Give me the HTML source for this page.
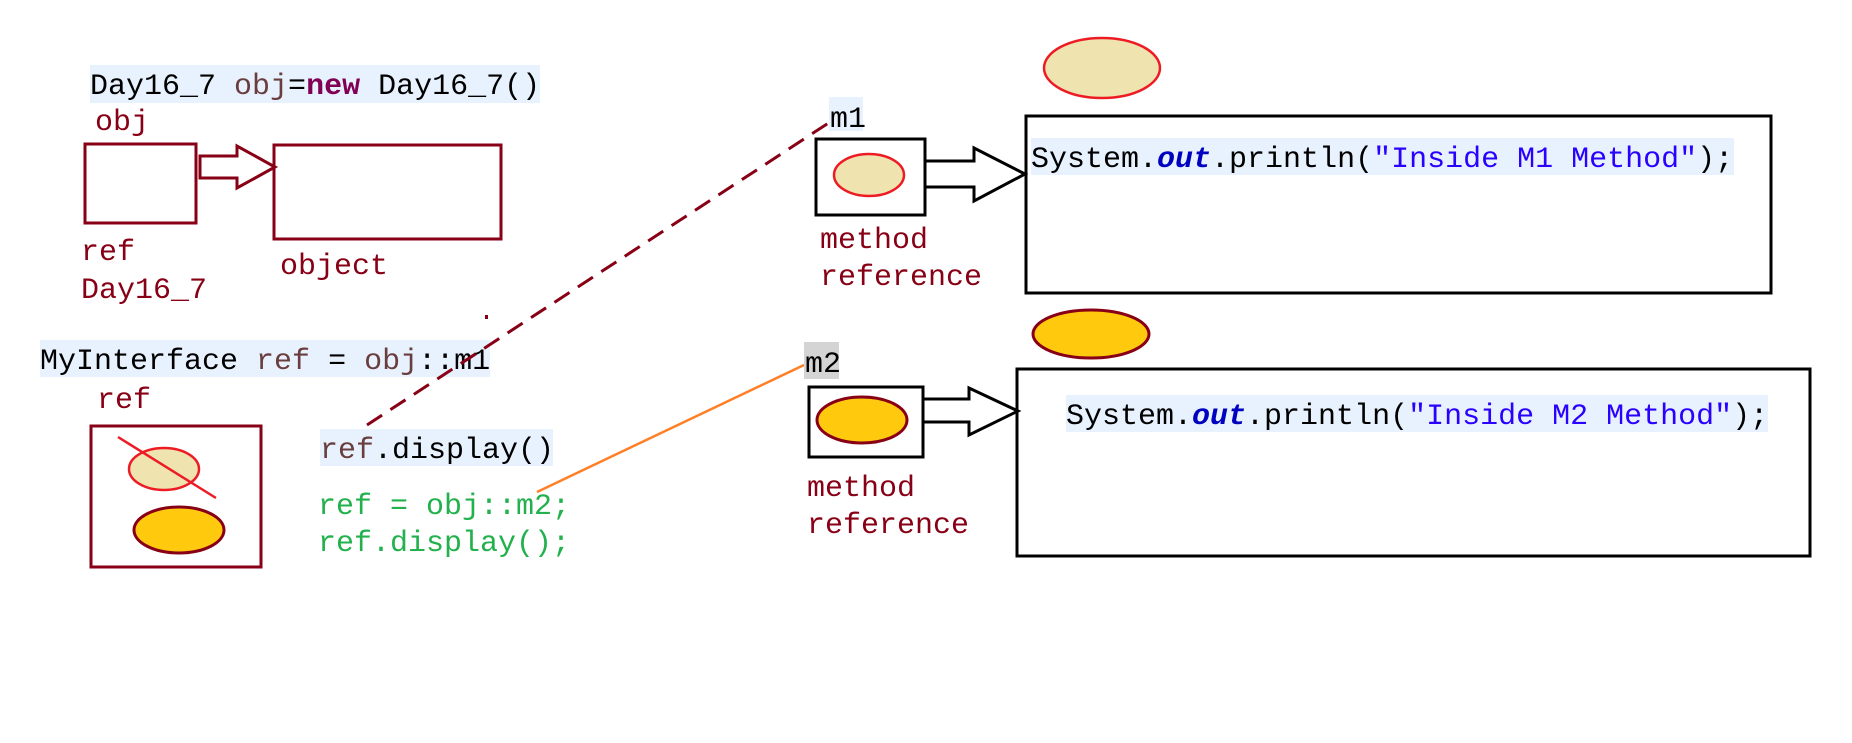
<!DOCTYPE html>
<html><head><style>
html,body{margin:0;padding:0;background:#fff;}
svg{display:block;}
text{font-family:"Liberation Mono",monospace;font-size:30px;}
</style></head><body>
<svg width="1852" height="743" viewBox="0 0 1852 743" xmlns="http://www.w3.org/2000/svg">
<rect x="90" y="65" width="450" height="38" fill="#e8f2fe"/>
<text x="90" y="94" fill="#000">Day16_7 <tspan fill="#6a3e3e">obj</tspan>=<tspan fill="#7f0055" font-weight="bold">new</tspan> Day16_7()</text>
<text x="95" y="130" fill="#880015">obj</text>
<rect x="85" y="144" width="111" height="79" fill="none" stroke="#880015" stroke-width="3"/>
<polygon points="200,156 237,156 237,146 275,167 237,188 237,178 200,178" fill="none" stroke="#880015" stroke-width="3"/>
<rect x="274" y="145" width="227" height="94" fill="none" stroke="#880015" stroke-width="3"/>
<text x="81" y="260" fill="#880015">ref</text>
<text x="81" y="298" fill="#880015">Day16_7</text>
<text x="280" y="274" fill="#880015">object</text>

<rect x="40" y="340" width="450" height="37" fill="#e8f2fe"/>
<text x="40" y="369" fill="#000">MyInterface <tspan fill="#6a3e3e">ref</tspan> = <tspan fill="#6a3e3e">obj</tspan>::m1</text>
<text x="97" y="408" fill="#880015">ref</text>
<rect x="91" y="426" width="170" height="141" fill="none" stroke="#880015" stroke-width="3"/>
<ellipse cx="164" cy="469" rx="35" ry="21" fill="#efe4b0" stroke="#ed1c24" stroke-width="2.5"/>
<line x1="118" y1="437" x2="216" y2="498" stroke="#ed1c24" stroke-width="2.5"/>
<ellipse cx="179" cy="530" rx="45" ry="23" fill="#ffc90e" stroke="#880015" stroke-width="3"/>

<rect x="320" y="429" width="233" height="37" fill="#e8f2fe"/>
<text x="320" y="458" fill="#000"><tspan fill="#6a3e3e">ref</tspan>.display()</text>
<text x="318" y="514" fill="#22b14c">ref = obj::m2;</text>
<text x="318" y="551" fill="#22b14c">ref.display();</text>

<line x1="367" y1="425" x2="830" y2="122" stroke="#880015" stroke-width="3" stroke-dasharray="18,10"/>
<rect x="485" y="315" width="3" height="4" fill="#880015"/>
<line x1="537" y1="492" x2="804" y2="365" stroke="#ff7f27" stroke-width="2.5"/>

<rect x="829" y="97" width="34" height="34" fill="#e8f2fe"/>
<text x="830" y="127" fill="#000">m1</text>
<rect x="804" y="342" width="35" height="37" fill="#d4d4d4"/>
<text x="805" y="372" fill="#000">m2</text>

<ellipse cx="1102" cy="68" rx="58" ry="30" fill="#efe4b0" stroke="#ed1c24" stroke-width="2.5"/>
<rect x="816" y="139" width="109" height="76" fill="none" stroke="#000" stroke-width="3"/>
<ellipse cx="869" cy="175" rx="35" ry="21" fill="#efe4b0" stroke="#ed1c24" stroke-width="2.5"/>
<polygon points="925,161 974,161 974,148 1025,174 974,201 974,187 925,187" fill="none" stroke="#000" stroke-width="3"/>
<rect x="1026" y="116" width="745" height="177" fill="none" stroke="#000" stroke-width="3"/>
<rect x="1031" y="138" width="703" height="37" fill="#e8f2fe"/>
<text x="1031" y="167" fill="#000">System.<tspan fill="#0000c0" font-weight="bold" font-style="italic">out</tspan>.println(<tspan fill="#2a00ff">"Inside M1 Method"</tspan>);</text>
<text x="820" y="248" fill="#880015">method</text>
<text x="820" y="285" fill="#880015">reference</text>

<ellipse cx="1091" cy="334" rx="58" ry="24" fill="#ffc90e" stroke="#880015" stroke-width="3"/>
<rect x="809" y="387" width="114" height="70" fill="none" stroke="#000" stroke-width="3"/>
<ellipse cx="862" cy="420" rx="45" ry="23" fill="#ffc90e" stroke="#880015" stroke-width="3"/>
<polygon points="923,399 969,399 969,388 1018,411 969,435 969,422 923,422" fill="none" stroke="#000" stroke-width="3"/>
<rect x="1017" y="369" width="793" height="187" fill="none" stroke="#000" stroke-width="3"/>
<rect x="1066" y="395" width="702" height="37" fill="#e8f2fe"/>
<text x="1066" y="424" fill="#000">System.<tspan fill="#0000c0" font-weight="bold" font-style="italic">out</tspan>.println(<tspan fill="#2a00ff">"Inside M2 Method"</tspan>);</text>
<text x="807" y="496" fill="#880015">method</text>
<text x="807" y="533" fill="#880015">reference</text>
</svg>
</body></html>
